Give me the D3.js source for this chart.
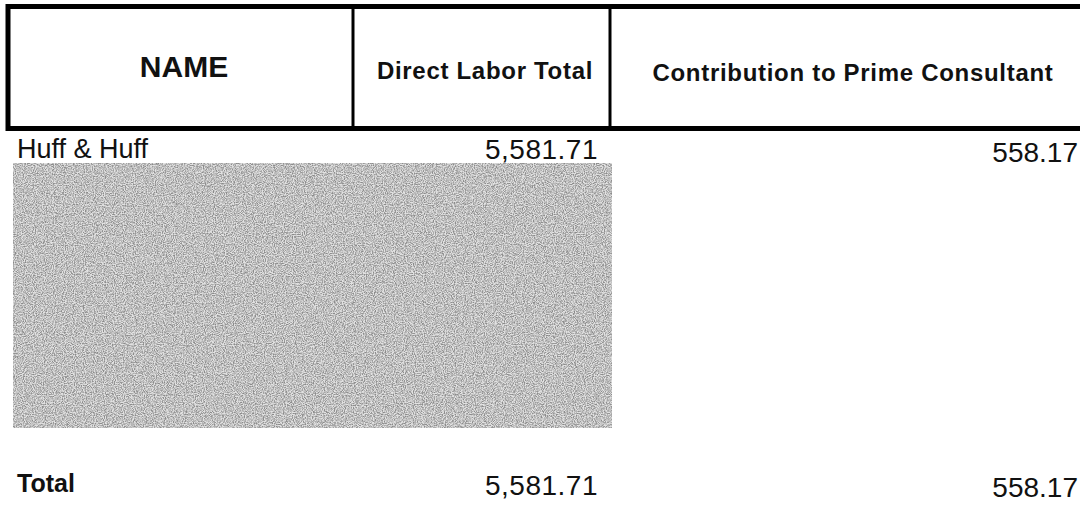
<!DOCTYPE html>
<html>
<head>
<meta charset="utf-8">
<script src="https://cdn.jsdelivr.net/npm/d3@7"></script>
<style>
  body { margin: 0; background: #fff; }
  svg { display: block; }
  text { font-family: "Liberation Sans", Arial, Helvetica, sans-serif; fill: #111; }
</style>
</head>
<body>
<script>
// table data
var headers = ["NAME", "Direct Labor Total", "Contribution to Prime Consultant"];
var names = ["Huff & Huff"];
var directLabor = [5581.71];
var contribution = [558.17];
var totalLabel = "Total";
var totalDirect = [5581.71];
var totalContribution = [558.17];

var width = 1080, height = 505;

var svg = d3.select("body").append("svg")
    .attr("width", width)
    .attr("height", height);

var fmt = d3.format(",.2f");

// column edges of the header box
var colEdges = [8, 353, 610, 1110];
var headTop = 6.5, headBottom = 128.5;

// speckled texture for the blanked-out block
var defs = svg.append("defs");
var filt = defs.append("filter").attr("id", "grain")
    .attr("x", 0).attr("y", 0).attr("width", 1).attr("height", 1);
filt.append("feTurbulence")
    .attr("type", "fractalNoise")
    .attr("baseFrequency", 0.9)
    .attr("numOctaves", 2)
    .attr("seed", 7)
    .attr("result", "noise");
filt.append("feColorMatrix")
    .attr("type", "matrix")
    .attr("values", "0 0 0 0 0  0 0 0 0 0  0 0 0 0 0  0 0 0 -2.4 1.6");

// header frame
svg.append("rect")
    .attr("x", colEdges[0])
    .attr("y", headTop)
    .attr("width", colEdges[3] - colEdges[0])
    .attr("height", headBottom - headTop)
    .attr("fill", "none")
    .attr("stroke", "#000")
    .attr("stroke-width", 5);

svg.selectAll("line.divider")
    .data(colEdges.slice(1, 3))
    .enter().append("line")
    .attr("class", "divider")
    .attr("x1", function(d) { return d; })
    .attr("x2", function(d) { return d; })
    .attr("y1", headTop)
    .attr("y2", headBottom)
    .attr("stroke", "#000")
    .attr("stroke-width", 3);

// header labels
var headStyle = [
  {size: 30, spacing: 0, y: 77},
  {size: 24, spacing: 0.7, y: 79},
  {size: 24, spacing: 0.7, y: 81}
];
var headCenters = [184, 485, 853];

svg.selectAll("text.head")
    .data(headers)
    .enter().append("text")
    .attr("class", "head")
    .attr("x", function(d, i) { return headCenters[i]; })
    .attr("y", function(d, i) { return headStyle[i].y; })
    .attr("text-anchor", "middle")
    .style("font-weight", "bold")
    .style("font-size", function(d, i) { return headStyle[i].size + "px"; })
    .style("letter-spacing", function(d, i) { return headStyle[i].spacing + "px"; })
    .text(function(d) { return d; });

// redacted block
svg.append("rect")
    .attr("x", 13)
    .attr("y", 163)
    .attr("width", 599)
    .attr("height", 265)
    .attr("fill", "#e2e2e2");
svg.append("rect")
    .attr("x", 13)
    .attr("y", 163)
    .attr("width", 599)
    .attr("height", 265)
    .attr("filter", "url(#grain)")
    .attr("opacity", 0.38);

// data rows
var rowY = d3.scalePoint().domain(names).range([158, 158]);

var rows = svg.selectAll("g.row")
    .data(names)
    .enter().append("g")
    .attr("class", "row");

rows.append("text")
    .attr("x", 17)
    .attr("y", function(d) { return rowY(d); })
    .style("font-size", "27px")
    .text(function(d) { return d; });

rows.append("text")
    .attr("x", 598)
    .attr("y", function(d) { return rowY(d) + 1; })
    .attr("text-anchor", "end")
    .style("font-size", "28px")
    .style("letter-spacing", "0.5px")
    .text(function(d, i) { return fmt(directLabor[i]); });

rows.append("text")
    .attr("x", 1078)
    .attr("y", function(d) { return rowY(d) + 4; })
    .attr("text-anchor", "end")
    .style("font-size", "28px")
    .text(function(d, i) { return fmt(contribution[i]); });

// total row
svg.append("text")
    .attr("x", 17)
    .attr("y", 492)
    .style("font-weight", "bold")
    .style("font-size", "25px")
    .text(totalLabel);

svg.append("text")
    .attr("x", 598)
    .attr("y", 495)
    .attr("text-anchor", "end")
    .style("font-size", "28px")
    .style("letter-spacing", "0.5px")
    .text(fmt(totalDirect[0]));

svg.append("text")
    .attr("x", 1078)
    .attr("y", 497)
    .attr("text-anchor", "end")
    .style("font-size", "28px")
    .text(fmt(totalContribution[0]));
</script>
</body>
</html>
